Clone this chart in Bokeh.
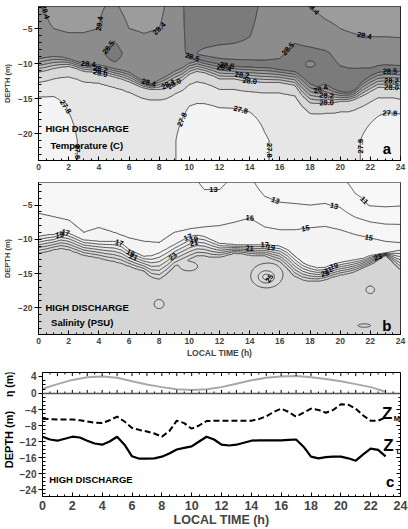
import numpy as np
import contourpy
from bokeh.plotting import figure
from bokeh.models import (Range1d, SingleIntervalTicker, FixedTicker,
                          ColumnDataSource, Label, Span)
from bokeh.layouts import column, row
from bokeh.core.properties import value
from bokeh.embed import file_html
from bokeh.resources import INLINE

FONT = "Liberation Sans"

# ---------------------------------------------------------------- data
HALF_HOURS = [i * 0.5 for i in range(49)]
HOURS = list(range(25))

# panel a : temperature, depth of top / bottom of thermocline band (half-hourly)
T_BAND_TOP = [-9.0, -8.8, -8.7, -8.8, -9.1, -9.5, -9.8, -9.9, -10.0, -10.2, -10.5, -10.7,
              -11.0, -11.7, -12.4, -12.7, -12.1, -11.5, -10.8, -10.3, -9.6, -9.3, -9.6, -9.8,
              -10.0, -10.2, -10.3, -10.4, -10.4, -10.5, -10.5, -10.6, -10.8, -10.9, -11.0, -11.7,
              -12.7, -13.1, -12.7, -13.4, -13.9, -14.0, -13.6, -12.4, -11.7, -11.2, -11.0, -11.0, -11.0]
T_BAND_BOT = [-11.2, -11.0, -10.7, -10.5, -10.4, -10.7, -11.1, -11.2, -11.3, -11.6, -11.9, -12.2,
              -12.6, -13.1, -13.5, -13.7, -13.7, -13.5, -12.9, -12.4, -11.5, -11.1, -11.3, -11.7,
              -12.2, -12.2, -12.2, -12.4, -12.5, -12.6, -12.7, -12.7, -12.7, -12.9, -13.1, -14.6,
              -15.6, -15.7, -15.6, -15.6, -15.4, -15.4, -15.1, -14.6, -14.0, -13.4, -13.4, -13.4, -13.6]
# hourly temperatures (C) near surface, at 5 m, at 8.5 m, at band top, deep
T_SURF = [28.42, 28.36, 28.36, 28.37, 28.39, 28.41, 28.37, 28.36, 28.37, 28.45, 28.53, 28.56, 28.56,
          28.56, 28.54, 28.47, 28.45, 28.44, 28.40, 28.37, 28.36, 28.35, 28.34, 28.34, 28.34]
T_5M = [28.43, 28.40, 28.39, 28.39, 28.40, 28.45, 28.40, 28.39, 28.40, 28.46, 28.52, 28.54, 28.54,
        28.53, 28.51, 28.46, 28.47, 28.47, 28.44, 28.42, 28.40, 28.38, 28.37, 28.37, 28.37]
T_85M = [28.45, 28.45, 28.45, 28.45, 28.47, 28.55, 28.46, 28.44, 28.45, 28.47, 28.51, 28.49, 28.48,
         28.48, 28.48, 28.48, 28.49, 28.52, 28.52, 28.51, 28.48, 28.47, 28.46, 28.46, 28.45]
T_TOP = [28.47, 28.47, 28.47, 28.47, 28.47, 28.47, 28.47, 28.47, 28.47, 28.47, 28.49, 28.52, 28.52,
         28.52, 28.52, 28.52, 28.52, 28.54, 28.54, 28.54, 28.54, 28.54, 28.52, 28.52, 28.52]
T_DEEP = [27.50, 27.55, 27.72, 27.86, 27.87, 27.87, 27.87, 27.87, 27.86, 27.82, 27.64, 27.62, 27.62,
          27.63, 27.66, 27.78, 27.85, 27.86, 27.87, 27.87, 27.86, 27.84, 27.72, 27.62, 27.62]
T_LENS_T = [18.0]
T_LENS_D = [-10.1]
T_LENS_AMP = [-0.06]
T_LENS_RT = [0.35]
T_LENS_RD = [0.5]
T_LEVELS = [27.0, 27.8, 27.9, 28.0, 28.1, 28.2, 28.3, 28.4, 28.5, 29.0]
T_COLORS = ["#f4f4f4", "#e6e6e6", "#d8d8d8", "#c9c9c9", "#b9b9b9", "#aaaaaa",
            "#9c9c9c", "#8c8c8c", "#7b7b7b"]
T_LABELS = [(28.4, 0.4, -2.6), (28.4, 4.2, -4.4), (28.4, 8.3, -6.6), (28.5, 4.8, -8.0),
            (28.5, 10.2, -8.9), (28.5, 11.8, -2.4), (28.4, 18.0, -2.5), (28.4, 21.7, -5.1),
            (28.5, 15.8, -6.5), (28.4, 3.3, -10.2), (28.2, 4.1, -10.8), (28.0, 4.0, -11.7),
            (28.4, 7.3, -12.5), (28.1, 8.6, -13.0), (28.0, 9.1, -13.3), (28.5, 12.5, -10.1),
            (28.4, 12.3, -11.0), (28.2, 13.5, -11.6), (28.0, 14.0, -12.3), (28.2, 19.0, -15.1),
            (28.0, 19.1, -15.8), (28.4, 18.7, -13.5), (28.5, 23.3, -11.3), (28.2, 23.4, -12.4),
            (28.0, 23.4, -13.3), (27.8, 2.1, -15.7), (27.8, 2.8, -22.6), (27.8, 9.3, -17.8),
            (27.8, 13.5, -16.0), (27.8, 15.0, -22.4), (27.8, 22.3, -21.8), (27.8, 23.3, -15.9)]

# panel b : salinity, top / bottom of halocline band (half-hourly)
S_BAND_TOP = [-9.6, -9.4, -9.3, -8.9, -9.1, -9.6, -10.1, -10.2, -10.3, -10.3, -10.3, -10.6,
              -11.5, -12.0, -12.5, -12.4, -12.0, -11.4, -10.8, -10.2, -9.6, -9.4, -9.6, -10.1,
              -10.6, -10.7, -10.8, -10.8, -10.8, -10.8, -10.8, -10.9, -11.0, -11.5, -12.5, -13.4,
              -13.9, -14.2, -14.1, -13.7, -13.4, -13.2, -13.0, -12.8, -12.4, -12.2, -12.0, -11.8, -11.6]
S_BAND_BOT = [-12.0, -11.8, -11.5, -11.3, -11.5, -11.9, -12.3, -12.5, -12.7, -13.0, -13.2, -13.5,
              -13.9, -14.3, -14.6, -15.5, -15.8, -15.0, -13.9, -13.4, -12.9, -12.4, -12.4, -12.6,
              -12.6, -12.3, -12.0, -12.1, -12.3, -12.4, -12.4, -12.8, -13.2, -14.2, -15.4, -15.9,
              -16.1, -16.1, -15.9, -15.5, -15.2, -15.0, -14.7, -14.2, -13.7, -13.0, -12.3, -13.3, -14.4]
S_SURF = [14.0, 14.0, 14.0, 14.0, 14.0, 14.0, 14.0, 14.0, 14.0, 14.0, 13.6, 12.6, 12.6,
          13.4, 13.4, 12.0, 11.6, 11.6, 11.7, 11.7, 11.5, 10.4, 10.2, 10.2, 10.4]
S_5M = [14.6, 14.6, 14.6, 14.6, 14.6, 14.6, 14.6, 14.6, 14.6, 14.6, 14.4, 13.8, 13.8,
        14.2, 14.6, 13.6, 13.2, 13.1, 13.0, 13.1, 12.8, 11.6, 10.9, 10.8, 10.9]
S_15_DEPTH = [-6.2, -6.7, -7.2, -9.0, -8.3, -9.0, -9.8, -10.3, -10.5, -9.0, -8.5, -8.2, -8.0,
              -7.5, -6.9, -8.2, -8.6, -8.6, -8.3, -8.1, -8.6, -9.3, -9.8, -10.3, -10.5]
S_DEEP = [30.0] * 25
S_LENS_T = [8.0, 10.0, 15.1, 21.6, 22.0]
S_LENS_D = [-19.5, -14.0, -15.5, -22.6, -17.4]
S_LENS_AMP = [-1.5, -1.5, -5.0, -1.4, -1.2]
S_LENS_RT = [0.3, 0.35, 0.6, 0.6, 0.25]
S_LENS_RD = [0.6, 0.4, 1.0, 0.35, 0.5]
S_LEVELS = [0, 11, 13, 15, 17, 19, 21, 23, 25, 27, 29, 40]
S_COLORS = ["#f8f8f8", "#f7f7f7", "#f6f6f6", "#f4f4f4", "#f1f1f1", "#ececec",
            "#e6e6e6", "#e0e0e0", "#dbdbdb", "#d8d8d8", "#d5d5d5"]
S_LABELS = [(17, 1.8, -8.9), (19, 1.5, -9.9), (17, 5.3, -10.7), (19, 6.0, -12.4),
            (21, 6.2, -12.9), (23, 9.0, -12.8), (17, 10.0, -9.9), (19, 10.4, -10.5),
            (21, 10.4, -11.6), (21, 14.0, -12.4), (17, 15.0, -10.9), (19, 15.4, -11.5),
            (21, 19.2, -14.6), (19, 19.6, -14.2), (23, 19.0, -15.4), (25, 15.5, -16.0),
            (23, 22.5, -12.6), (15, 14.0, -6.9), (15, 17.7, -8.4), (15, 21.9, -10.0),
            (13, 15.8, -3.8), (13, 19.6, -4.9), (11, 21.8, -3.8), (13, 11.6, -3.5)]

# panel c
ETA_HOURS = list(range(24))
ETA = [1.1, 2.2, 3.2, 3.8, 4.0, 3.7, 2.9, 2.1, 1.5, 1.0, 0.8, 1.0, 1.5, 2.3, 3.1, 3.7,
       4.0, 4.1, 3.8, 3.4, 2.9, 2.2, 1.5, 0.4]
Z_HOURS = [i * 0.5 for i in range(47)]
Z_M = [-6.3, -6.4, -6.5, -6.5, -6.5, -6.7, -7.0, -7.3, -7.4, -6.7, -5.8, -7.0, -8.6, -9.1,
       -9.5, -10.0, -10.8, -9.4, -6.8, -7.4, -8.8, -8.0, -6.9, -6.8, -6.8, -6.8, -6.8, -6.8,
       -6.8, -6.4, -5.7, -4.6, -3.8, -4.6, -5.8, -4.8, -3.8, -4.1, -4.8, -4.1, -2.7, -2.8,
       -3.8, -5.5, -6.8, -6.8, -6.0]
Z_T = [-10.8, -11.5, -11.8, -11.3, -10.8, -11.0, -11.8, -12.5, -12.8, -12.0, -10.8, -12.8,
       -15.7, -16.3, -16.3, -16.2, -15.8, -15.0, -14.0, -13.6, -13.2, -12.0, -10.8, -11.5,
       -12.8, -13.0, -12.8, -12.3, -11.8, -11.7, -11.7, -11.7, -11.7, -11.6, -11.5, -13.3,
       -15.8, -16.2, -15.9, -15.8, -15.8, -16.2, -16.8, -15.2, -13.8, -14.1, -15.7]
DEPTH_TICKS = [-24, -20, -16, -12, -8, -4]
ETA_TICKS = [0, 4]

# ---------------------------------------------------------------- fields
TG = np.linspace(0, 24, 241)
DG = np.linspace(-24, -1.6, 225)
TT, DD = np.meshgrid(TG, DG)


def add_lenses(Z, ts, ds, amps, rts, rds):
    for t0, d0, a, rt, rd in zip(ts, ds, amps, rts, rds):
        Z = Z + a * np.exp(-((TT - t0) / rt) ** 2 - ((DD - d0) / rd) ** 2)
    return Z


def temperature_field():
    top = np.interp(TG, HALF_HOURS, T_BAND_TOP)
    bot = np.interp(TG, HALF_HOURS, T_BAND_BOT)
    ts, t5, t85 = (np.interp(TG, HOURS, a) for a in (T_SURF, T_5M, T_85M))
    ttop, tdeep = (np.interp(TG, HOURS, a) for a in (T_TOP, T_DEEP))
    Z = np.empty((DG.size, TG.size))
    for i in range(TG.size):
        xp = [-24.0, -21.0, bot[i] - 1.5, bot[i], top[i]]
        fp = [tdeep[i], tdeep[i], 27.9, 28.0, ttop[i]]
        for dd, vv in ((-8.5, t85[i]), (-5.0, t5[i]), (-1.6, ts[i])):
            if dd > xp[-1] + 0.15:
                xp.append(dd)
                fp.append(vv)
        Z[:, i] = np.interp(DG, xp, fp)
    return add_lenses(Z, T_LENS_T, T_LENS_D, T_LENS_AMP, T_LENS_RT, T_LENS_RD)


def salinity_field():
    top = np.interp(TG, HALF_HOURS, S_BAND_TOP)
    bot = np.interp(TG, HALF_HOURS, S_BAND_BOT)
    ss, s5, z15, sdeep = (np.interp(TG, HOURS, a) for a in (S_SURF, S_5M, S_15_DEPTH, S_DEEP))
    Z = np.empty((DG.size, TG.size))
    for i in range(TG.size):
        z = min(max(z15[i], top[i] + 0.3), -5.3)
        xp = [-24.0, bot[i], top[i], z, -5.0, -1.6]
        fp = [sdeep[i], 29.0, 17.0, 15.0, s5[i], ss[i]]
        Z[:, i] = np.interp(DG, xp, fp)
    return add_lenses(Z, S_LENS_T, S_LENS_D, S_LENS_AMP, S_LENS_RT, S_LENS_RD)


def contour_labels(p, Z, specs, fmt, sx, sy):
    gen = contourpy.contour_generator(TG, DG, Z)
    out = dict(x=[], y=[], text=[], angle=[])
    cache = {}
    for lvl, t0, d0 in specs:
        if lvl not in cache:
            cache[lvl] = gen.lines(lvl)
        best = None
        for ln in cache[lvl]:
            if len(ln) < 3:
                continue
            dist = ((ln[:, 0] - t0) * sx) ** 2 + ((ln[:, 1] - d0) * sy) ** 2
            k = int(np.argmin(dist))
            if best is None or dist[k] < best[0]:
                best = (dist[k], ln, k)
        if best is None or best[0] > 20 ** 2:
            continue
        _, ln, k = best
        a, b = max(k - 3, 0), min(k + 3, len(ln) - 1)
        ang = np.arctan2((ln[b, 1] - ln[a, 1]) * sy, (ln[b, 0] - ln[a, 0]) * sx)
        if ang > np.pi / 2:
            ang -= np.pi
        elif ang < -np.pi / 2:
            ang += np.pi
        out["x"].append(float(ln[k, 0]))
        out["y"].append(float(ln[k, 1]))
        out["text"].append(fmt % lvl)
        out["angle"].append(float(ang))
    p.text(x="x", y="y", text="text", angle="angle", source=ColumnDataSource(out),
           text_font=value(FONT), text_font_style="bold", text_font_size="7.5px",
           text_align="center", text_baseline="middle", text_color="black")


def style_x(ax, size):
    ax.ticker = SingleIntervalTicker(interval=2, num_minor_ticks=4)
    ax.major_tick_in = 4
    ax.major_tick_out = 0
    ax.minor_tick_in = 2
    ax.minor_tick_out = 0
    ax.axis_line_color = "black"
    ax.major_tick_line_color = "black"
    ax.minor_tick_line_color = "black"
    ax.major_label_text_font = FONT
    ax.major_label_text_font_style = "bold"
    ax.major_label_text_font_size = size
    ax.major_label_standoff = 3


def style_y(ax, size):
    ax.major_tick_in = 0
    ax.major_tick_out = 4
    ax.minor_tick_in = 3
    ax.minor_tick_out = 0
    ax.axis_line_color = "black"
    ax.major_label_text_font = FONT
    ax.major_label_text_font_style = "bold"
    ax.major_label_text_font_size = size
    ax.major_label_standoff = 2
    ax.axis_label_text_font = FONT
    ax.axis_label_text_font_style = "bold"
    ax.axis_label_text_font_size = "7.5px"
    ax.axis_label_standoff = 3


def label(p, x, y, text, size, align="left", **kw):
    p.add_layout(Label(x=x, y=y, text=text, text_font=FONT, text_font_style="bold",
                       text_font_size=size, text_align=align, text_baseline="middle",
                       text_color="black", **kw))


def contour_panel(Z, levels, colors, height, btop, bbot, yr, specs, fmt, xlabel):
    p = figure(width=408, height=height, x_range=Range1d(0, 24), y_range=Range1d(*yr),
               output_backend="svg", toolbar_location=None, min_border_left=38,
               min_border_right=8, min_border_top=btop, min_border_bottom=bbot)
    p.contour(x=TG, y=DG, z=Z, levels=levels, fill_color=colors,
              line_color="#1e1e1e", line_width=0.75)
    contour_labels(p, Z, specs, fmt, 362 / 24.0, 154 / (yr[1] - yr[0]))
    p.xgrid.grid_line_color = None
    p.ygrid.grid_line_color = None
    p.outline_line_color = "black"
    p.outline_line_width = 1
    style_x(p.xaxis[0], "8.5px")
    if xlabel:
        p.xaxis[0].axis_label = xlabel
        p.xaxis[0].axis_label_text_font = FONT
        p.xaxis[0].axis_label_text_font_style = "bold"
        p.xaxis[0].axis_label_text_font_size = "8.5px"
        p.xaxis[0].axis_label_standoff = 1
    p.yaxis[0].ticker = FixedTicker(ticks=[-20, -15, -10, -5], minor_ticks=list(range(-23, -1)))
    style_y(p.yaxis[0], "8.5px")
    p.yaxis[0].axis_label = "DEPTH (m)"
    return p


# ---------------------------------------------------------------- panel a
pa = contour_panel(temperature_field(), T_LEVELS, T_COLORS, 178, 6, 18, (-23.85, -1.85),
                   T_LABELS, "%.1f", None)
label(pa, 0.46, -19.3, "HIGH DISCHARGE", "9.5px")
label(pa, 3.2, -21.7, "Temperature (C)", "9.5px", align="center")
label(pa, 23.1, -22.1, "a", "15px", align="center")

# ---------------------------------------------------------------- panel b
pb = contour_panel(salinity_field(), S_LEVELS, S_COLORS, 184, 4, 28, (-23.9, -1.7),
                   S_LABELS, "%d", "LOCAL TIME (h)")
label(pb, 0.46, -20.0, "HIGH DISCHARGE", "9.5px")
label(pb, 2.9, -22.1, "Salinity (PSU)", "9.5px", align="center")
label(pb, 23.1, -22.6, "b", "15px", align="center")

# ---------------------------------------------------------------- panel c
D_LO, D_HI = -25.75, 5.25
E_LO, E_HI = -24.24, 4.94
STRIP_W = 16


def eta_in_depth(e):
    return round(D_LO + (e - E_LO) * (D_HI - D_LO) / (E_HI - E_LO), 3)


pc = figure(width=408 - STRIP_W, height=167, x_range=Range1d(0, 24),
            y_range=Range1d(D_LO, D_HI), output_backend="svg", toolbar_location=None,
            min_border_left=39 - STRIP_W, min_border_right=8, min_border_top=10,
            min_border_bottom=33)
pc.extra_y_ranges = {"eta": Range1d(E_LO, E_HI)}
pc.xgrid.grid_line_color = None
pc.ygrid.grid_line_color = None
pc.outline_line_color = "black"
pc.outline_line_width = 1

pc.line(ETA_HOURS, ETA, y_range_name="eta", line_color="#a8a8a8", line_width=2)
pc.line(Z_HOURS, Z_M, line_color="black", line_width=2, line_dash="6 3")
pc.line(Z_HOURS, Z_T, line_color="black", line_width=2.2)
pc.add_layout(Span(location=0, dimension="width", line_color="#555555", line_width=1.6))

# tick marks along the eta=0 line, the top edge and the right edge
tick_x = [i * 0.5 for i in range(49)]
major_x = [i % 2 == 0 for i in range(49)]
pc.segment(x0=tick_x, y0=[0] * 49, x1=tick_x, y1=[0.9 if m else 0.5 for m in major_x],
           line_color="black", line_width=1)
pc.segment(x0=tick_x, y0=[D_HI] * 49, x1=tick_x,
           y1=[D_HI - (0.9 if m else 0.5) for m in major_x], line_color="black", line_width=1)
minor_d = list(range(-25, 0))
pc.segment(x0=[24] * len(minor_d), y0=minor_d,
           x1=[24 - (0.27 if d in DEPTH_TICKS else 0.14) for d in minor_d], y1=minor_d,
           line_color="black", line_width=1)

e_ticks = [eta_in_depth(e) for e in ETA_TICKS]
ax = pc.yaxis[0]
ax.ticker = FixedTicker(ticks=DEPTH_TICKS + e_ticks,
                        minor_ticks=minor_d + [eta_in_depth(1), eta_in_depth(2), eta_in_depth(3)])
ax.major_label_overrides = {t: str(e) for t, e in zip(e_ticks, ETA_TICKS)}
style_y(ax, "10px")

style_x(pc.xaxis[0], "12.5px")
pc.xaxis[0].axis_label = "LOCAL TIME (h)"
pc.xaxis[0].axis_label_text_font = FONT
pc.xaxis[0].axis_label_text_font_style = "bold"
pc.xaxis[0].axis_label_text_font_size = "12.5px"
pc.xaxis[0].axis_label_standoff = 0
pc.xaxis[0].major_label_standoff = 4

label(pc, 0.45, -21.5, "HIGH DISCHARGE", "9.5px")
label(pc, 23.3, -22.0, "c", "15px", align="center")
label(pc, 23.1, -5.0, "Z", "17px", align="center")
label(pc, 23.75, -6.3, "M", "7.5px", align="center")
label(pc, 23.2, -13.0, "Z", "17px", align="center")
label(pc, 23.8, -14.4, "T", "7.5px", align="center")

# left strip carrying the two rotated axis titles of panel c (same vertical frame as pc)
strip = figure(width=STRIP_W, height=167, x_range=Range1d(0, STRIP_W),
               y_range=Range1d(D_LO, D_HI), output_backend="svg", toolbar_location=None,
               min_border_left=0, min_border_right=0, min_border_top=10,
               min_border_bottom=33, outline_line_color=None)
strip.axis.visible = False
strip.xgrid.grid_line_color = None
strip.ygrid.grid_line_color = None
strip.text(x=[8.5, 8.5], y=[eta_in_depth(2.2), -11.5], text=["\u03b7 (m)", "DEPTH (m)"],
           angle=[np.pi / 2, np.pi / 2], text_font=value(FONT), text_font_style="bold",
           text_font_size=["10.5px", "11px"], text_align="center", text_baseline="middle",
           text_color="black")

layout = column(pa, pb, row(strip, pc))
open("out.html", "w").write(file_html(layout, INLINE))
